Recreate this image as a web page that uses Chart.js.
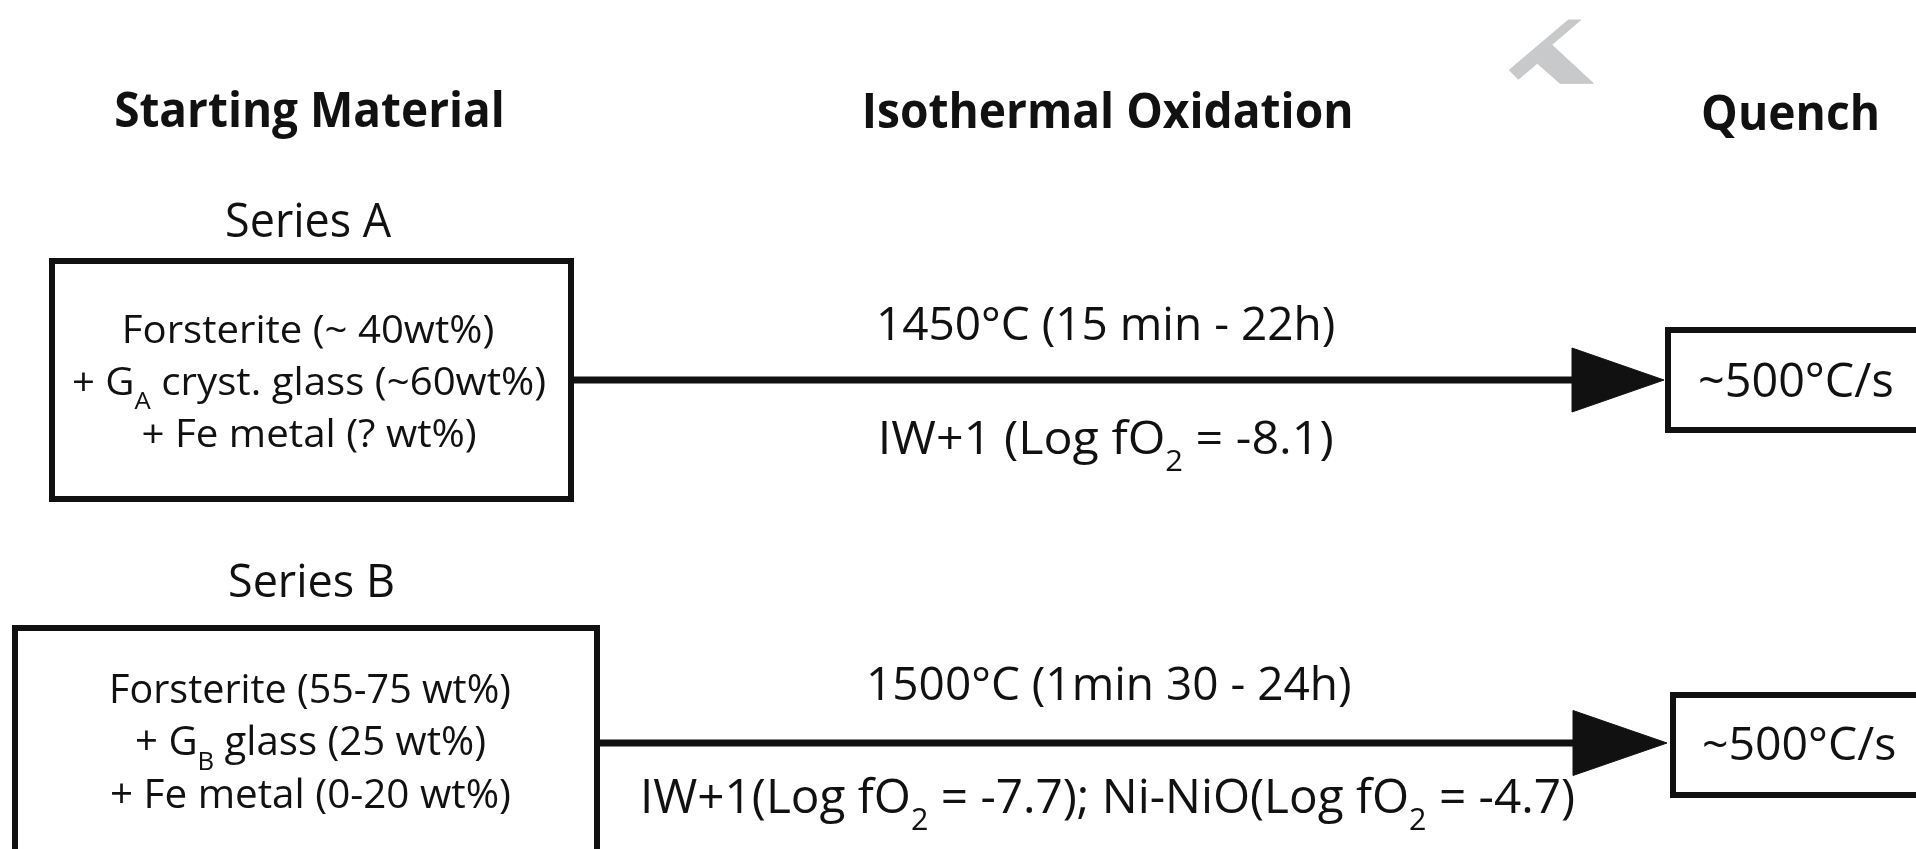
<!DOCTYPE html>
<html><head><meta charset="utf-8">
<script src="https://cdn.jsdelivr.net/npm/chart.js@4.4.1/dist/chart.umd.min.js"></script>
<style>html,body{margin:0;padding:0;background:#fff;overflow:hidden}#wrap{width:1916px;height:849px;position:relative}</style>
</head><body><div id="wrap"><canvas id="c"></canvas></div>
<script>
// ---------------- data (text content of the diagram) ----------------
const stages = ['Starting Material', 'Isothermal Oxidation', 'Quench'];
const seriesNames = ['Series A', 'Series B'];
const seriesAMaterials = ['Forsterite (~ 40wt%)', '+ G_{A} cryst. glass (~60wt%)', '+ Fe metal (? wt%)'];
const seriesBMaterials = ['Forsterite (55-75 wt%)', '+ G_{B} glass (25 wt%)', '+ Fe metal (0-20 wt%)'];
const oxidationTemps = ['1450°C (15 min - 22h)', '1500°C (1min 30 - 24h)'];
const oxygenFugacity = ['IW+1 (Log fO_{2} = -8.1)', 'IW+1(Log fO_{2} = -7.7); Ni-NiO(Log fO_{2} = -4.7)'];
const quenchRates = ['~500°C/s', '~500°C/s'];
const materials = [seriesAMaterials, seriesBMaterials];

// ---------------- layout (diagram units on the x / y scales) ----------------
const layout = {
  header: { x: [309, 1108, 1790], y: [127, 128, 130], w: [386, 485, 174], cap: 35 },
  rows: [
    { labelX: 309.5, labelY: 237, labelW: 165, labelCap: 34,
      box: [52, 261, 571, 499], matX: 309, matY: [343, 395, 447], matW: [368, 472, 333], matCap: 27,
      lineY: 380, lineX0: 571, headX0: 1572, headX1: 1664, headHalf: 32,
      midX: 1107, tempY: 340, tempW: 454, tempCap: 32, fo2X: 1107, fo2Y: 454, fo2W: 450, fo2Cap: 33,
      qBox: [1668, 330, 1995, 430], qX: 1796, qY: 397, qW: 192, qCap: 34 },
    { labelX: 311.5, labelY: 597, labelW: 163, labelCap: 32,
      box: [15, 628, 597, 930], matX: 311, matY: [703, 755, 808], matW: [398, 348, 398], matCap: 29,
      lineY: 743, lineX0: 597, headX0: 1573, headX1: 1667, headHalf: 32.5,
      midX: 1110, tempY: 700, tempW: 480, tempCap: 33, fo2X: 1109, fo2Y: 813, fo2W: 930, fo2Cap: 34,
      qBox: [1673, 695, 1995, 795], qX: 1799.5, qY: 760, qW: 191, qCap: 32 }
  ],
  mark: [[1509.3, 70], [1568.3, 20], [1580.7, 20], [1551.7, 44.7], [1593.3, 83.3], [1560, 83.3], [1537.3, 63.3], [1518.3, 79.3]]
};

const INK = '#111111';
function rect(b) {
  const [x0, y0, x1, y1] = b;
  return [{x: x0, y: y0}, {x: x1, y: y0}, {x: x1, y: y1}, {x: x0, y: y1}, {x: x0, y: y0}, {x: x1, y: y0}];
}
const datasets = [];
datasets.push({ data: layout.mark.map(p => ({x: p[0], y: p[1]})).concat([{x: layout.mark[0][0], y: layout.mark[0][1]}]),
  showLine: true, fill: 'shape', backgroundColor: '#c8c9cb', borderColor: '#c8c9cb', borderWidth: 1, pointRadius: 0 });
layout.rows.forEach(r => {
  datasets.push({ data: rect(r.box), showLine: true, fill: false, borderColor: INK, borderWidth: 6, pointRadius: 0,
    borderJoinStyle: 'miter', borderCapStyle: 'butt' });
  datasets.push({ data: rect(r.qBox), showLine: true, fill: false, borderColor: INK, borderWidth: 6, pointRadius: 0,
    borderJoinStyle: 'miter', borderCapStyle: 'butt' });
  datasets.push({ data: [{x: r.lineX0, y: r.lineY}, {x: r.headX0 + 4, y: r.lineY}], showLine: true, fill: false,
    borderColor: INK, borderWidth: 7, pointRadius: 0, borderCapStyle: 'butt' });
  datasets.push({ data: [{x: r.headX0, y: r.lineY - r.headHalf}, {x: r.headX1, y: r.lineY}, {x: r.headX0, y: r.lineY + r.headHalf}, {x: r.headX0, y: r.lineY - r.headHalf}],
    showLine: true, fill: 'shape', backgroundColor: INK, borderColor: INK, borderWidth: 1, pointRadius: 0 });
});

function parseSegs(s) {
  const out = []; const re = /_\{([^}]*)\}/g; let last = 0, m;
  while ((m = re.exec(s))) {
    if (m.index > last) out.push({t: s.slice(last, m.index), sub: false});
    out.push({t: m[1], sub: true}); last = re.lastIndex;
  }
  if (last < s.length) out.push({t: s.slice(last), sub: false});
  return out;
}
function drawText(chart, str, x, y, cap, width, bold) {
  const ctx = chart.ctx, xs = chart.scales.x, ys = chart.scales.y;
  const px = xs.getPixelForValue(x), py = ys.getPixelForValue(y);
  const capPx = Math.abs(ys.getPixelForValue(y + cap) - py);
  const wPx = Math.abs(xs.getPixelForValue(x + width) - px);
  const size = capPx / 0.714, subSize = size * 0.64;
  const wt = bold ? '700' : '400';
  const segs = parseSegs(str);
  let adv = 0;
  segs.forEach(sg => {
    ctx.font = `${wt} ${sg.sub ? subSize : size}px "Open Sans"`;
    const m = ctx.measureText(sg.t);
    sg.w = m.width; sg.l = m.actualBoundingBoxLeft; sg.r = m.actualBoundingBoxRight; sg.x = adv; adv += m.width;
  });
  const first = segs[0], lastS = segs[segs.length - 1];
  const inkStart = -first.l, inkEnd = lastS.x + lastS.r;
  const inkW = inkEnd - inkStart;
  const sx = wPx / inkW;
  ctx.save();
  ctx.translate(px, py); ctx.scale(sx, 1);
  ctx.fillStyle = INK; ctx.textAlign = 'left'; ctx.textBaseline = 'alphabetic';
  const x0 = -inkW / 2 - inkStart;
  segs.forEach(sg => {
    ctx.font = `${wt} ${sg.sub ? subSize : size}px "Open Sans"`;
    ctx.fillText(sg.t, x0 + sg.x, sg.sub ? capPx * 0.5 : 0);
  });
  ctx.restore();
}

const textPlugin = {
  id: 'diagramText',
  afterDatasetsDraw(chart) {
    const h = layout.header;
    stages.forEach((s, i) => drawText(chart, s, h.x[i], h.y[i], h.cap, h.w[i], true));
    layout.rows.forEach((r, i) => {
      drawText(chart, seriesNames[i], r.labelX, r.labelY, r.labelCap, r.labelW, false);
      materials[i].forEach((m, j) => drawText(chart, m, r.matX, r.matY[j], r.matCap, r.matW[j], false));
      drawText(chart, oxidationTemps[i], r.midX, r.tempY, r.tempCap, r.tempW, false);
      drawText(chart, oxygenFugacity[i], r.fo2X, r.fo2Y, r.fo2Cap, r.fo2W, false);
      drawText(chart, quenchRates[i], r.qX, r.qY, r.qCap, r.qW, false);
    });
  }
};

new Chart(document.getElementById('c'), {
  type: 'scatter',
  data: { datasets },
  options: {
    responsive: true, maintainAspectRatio: false, animation: false,
    layout: { padding: 0 },
    plugins: { legend: { display: false }, tooltip: { enabled: false } },
    elements: { line: { tension: 0 } },
    scales: {
      x: { type: 'linear', min: 0, max: 1916, display: false },
      y: { type: 'linear', min: 0, max: 849, reverse: true, display: false }
    }
  },
  plugins: [textPlugin]
});
</script>
</body></html>
